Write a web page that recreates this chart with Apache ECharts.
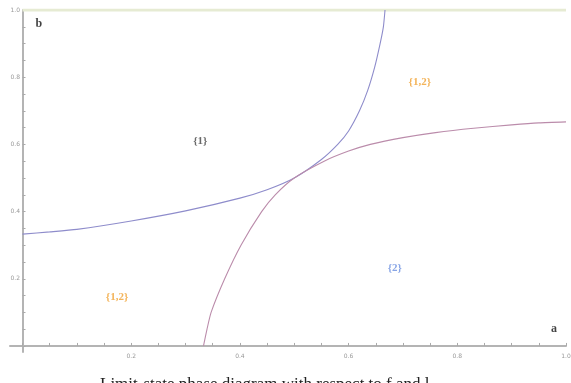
<!DOCTYPE html>
<html>
<head>
<meta charset="utf-8">
<script src="https://cdn.jsdelivr.net/npm/echarts@6/dist/echarts.min.js"></script>
<style>
  html, body { margin: 0; padding: 0; background: #fff; }
  #chart { width: 571px; height: 383px; }
</style>
</head>
<body>
<div id="chart"></div>
<script>
// 曲线数据
const blueA = [0, 0.05, 0.1, 0.2, 0.3, 0.4, 0.45, 0.5, 0.55, 0.58, 0.6, 0.62, 0.635, 0.648, 0.658, 0.664, 0.667];
const blueB = [0.333, 0.3395, 0.347, 0.372, 0.402, 0.44, 0.465, 0.5, 0.555, 0.6, 0.64, 0.7, 0.76, 0.83, 0.9, 0.95, 1.0];
const pinkA = [0.333, 0.3395, 0.347, 0.372, 0.402, 0.44, 0.465, 0.5, 0.555, 0.6, 0.64, 0.7, 0.76, 0.83, 0.9, 0.95, 1.0];
const pinkB = [0, 0.05, 0.1, 0.2, 0.3, 0.4, 0.45, 0.5, 0.55, 0.58, 0.6, 0.62, 0.635, 0.648, 0.658, 0.664, 0.667];
const topLineA = [0, 1];
const topLineB = [1, 1];

// 区域标注
const regionNames = ['{1}', '{1,2}', '{2}', '{1,2}', 'b', 'a'];
const regionA = [0.327, 0.731, 0.685, 0.174, 0.03, 0.978];
const regionB = [0.61, 0.786, 0.232, 0.146, 0.958, 0.05];
const regionColors = ['#444', '#f0a030', '#6a8ee0', '#f0a030', '#111', '#111'];

// 刻度
const tickValues = [];
for (let i = 0; i <= 20; i++) tickValues.push(+(i * 0.05).toFixed(2));
const labelValues = [0.2, 0.4, 0.6, 0.8, 1.0];

const zip = (xs, ys) => xs.map((x, i) => [x, ys[i]]);

const chart = echarts.init(document.getElementById('chart'));

const axisCommon = {
    type: 'value',
    max: 1,
    axisLine: { show: true, onZero: true, lineStyle: { color: '#b4b4b4', width: 2 } },
    axisTick: { show: true, inside: true, length: 3, customValues: tickValues, lineStyle: { color: '#aaa' } },
    axisLabel: {
        customValues: labelValues,
        fontSize: 6,
        color: '#999',
        fontFamily: 'DejaVu Sans',
        formatter: v => v.toFixed(1)
    },
    splitLine: { show: false }
};

const option = {
    animation: false,
    grid: { left: 10, right: 5, top: 10, bottom: 31, containLabel: false, outerBoundsMode: 'none' },
    xAxis: Object.assign({}, axisCommon, {
        min: -0.023,
        axisLabel: Object.assign({}, axisCommon.axisLabel, { margin: 1 })
    }),
    yAxis: Object.assign({}, axisCommon, {
        min: -0.018,
        axisLabel: Object.assign({}, axisCommon.axisLabel, { margin: -10 })
    }),
    series: [
        {
            type: 'line',
            data: zip(topLineA, topLineB),
            showSymbol: false,
            lineStyle: { color: '#e6ebd3', width: 3 }
        },
        {
            type: 'line',
            data: zip(blueA, blueB),
            showSymbol: false,
            smooth: 0.2,
            lineStyle: { color: '#8e8ccb', width: 1.1 }
        },
        {
            type: 'line',
            data: zip(pinkA, pinkB),
            showSymbol: false,
            smooth: 0.2,
            lineStyle: { color: '#bb8cab', width: 1.1 }
        },
        {
            type: 'scatter',
            symbolSize: 0,
            data: regionNames.map((n, i) => ({
                value: [regionA[i], regionB[i]],
                label: {
                    show: true,
                    position: 'inside',
                    formatter: n,
                    color: regionColors[i],
                    fontFamily: 'Liberation Serif',
                    fontWeight: 'bold',
                    fontSize: (n === 'a' || n === 'b') ? 12 : 11
                }
            }))
        }
    ],
    graphic: [
        {
            type: 'text',
            left: 100,
            top: 376,
            style: {
                text: 'Limit-state phase diagram with respect to f and l',
                font: '17px "Liberation Serif"',
                fill: '#222'
            }
        }
    ]
};

chart.setOption(option);
</script>
</body>
</html>
